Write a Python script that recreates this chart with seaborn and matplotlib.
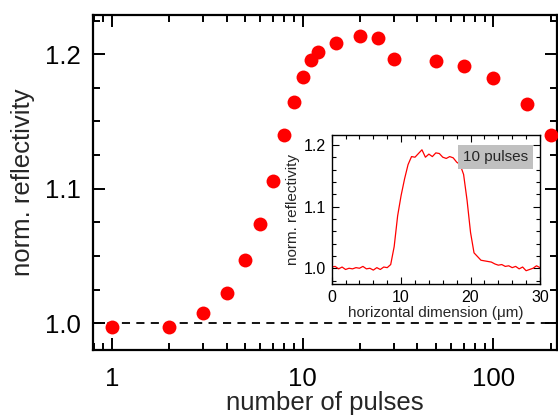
import numpy as np
import pandas as pd
import matplotlib
matplotlib.use('Agg')
import matplotlib.pyplot as plt
import matplotlib.ticker as mticker
import seaborn as sns

# main data: reflectivity vs number of pulses
pulses = [1, 2, 3, 4, 5, 6, 7, 8, 9, 10, 11, 12, 15, 20, 25, 30, 50, 70, 100, 150, 200]
reflectivity = [0.9972, 0.9975, 1.0079, 1.0228, 1.0470, 1.0736, 1.1060, 1.1396, 1.1648,
                1.1834, 1.1958, 1.2020, 1.2087, 1.2132, 1.2119, 1.1965, 1.1952, 1.1915,
                1.1826, 1.1628, 1.1400]

# inset profile (10 pulses)
position = [0.0, 0.5, 1.0, 1.5, 2.0, 2.5, 3.0, 3.5, 4.0, 4.5, 5.0, 5.5, 6.0, 6.5, 7.0,
            7.5, 8.0, 8.5, 9.0, 9.5, 10.0, 10.5, 11.0, 11.5, 12.0, 12.5, 13.0, 13.5,
            14.0, 14.5, 15.0, 15.5, 16.0, 16.5, 17.0, 17.5, 18.0, 18.5, 19.0, 19.5,
            20.0, 20.5, 21.0, 21.5, 22.0, 22.5, 23.0, 23.5, 24.0, 24.5, 25.0, 25.5,
            26.0, 26.5, 27.0, 27.5, 28.0, 28.5, 29.0, 29.5, 30.0]
profile = [1.002, 1.003, 0.999, 1.002, 0.998, 1.000, 0.999, 1.001, 1.000, 1.003, 0.999,
           1.000, 0.997, 1.001, 0.998, 1.002, 1.001, 1.006, 1.035, 1.085, 1.118, 1.145,
           1.168, 1.181, 1.180, 1.186, 1.192, 1.180, 1.185, 1.181, 1.187, 1.186, 1.180,
           1.178, 1.181, 1.179, 1.172, 1.168, 1.152, 1.110, 1.058, 1.025, 1.019, 1.013,
           1.012, 1.011, 1.010, 1.007, 1.005, 1.006, 1.003, 1.004, 1.001, 1.003, 0.999,
           1.002, 0.996, 0.998, 1.000, 1.004, 1.001]

df = pd.DataFrame({'pulses': pulses, 'refl': reflectivity})
prof = pd.DataFrame({'x': position, 'y': profile})

sns.set_theme(style='ticks')
plt.rcParams['font.family'] = ['Liberation Sans', 'DejaVu Sans']

fig = plt.figure(figsize=(5.58, 4.16), dpi=100)
ax = fig.add_axes([0.1667, 0.1587, 0.8315, 0.8053])

ax.axhline(1.0, color='black', lw=1.3, ls=(0, (4.5, 3.5)), zorder=1)
sns.scatterplot(data=df, x='pulses', y='refl', ax=ax, color='#ff0000', s=100,
                linewidth=0, zorder=3)
ax.set_xscale('log')
ax.set_xlim(0.795, 216)
ax.set_ylim(0.9801, 1.2292)
ax.xaxis.set_major_locator(mticker.FixedLocator([1, 10, 100]))
ax.xaxis.set_major_formatter(mticker.FixedFormatter(['1', '10', '100']))
ax.xaxis.set_minor_locator(mticker.LogLocator(base=10, subs=np.arange(2, 10) / 1.0, numticks=20))
ax.xaxis.set_minor_formatter(mticker.NullFormatter())
ax.yaxis.set_major_locator(mticker.MultipleLocator(0.1))
ax.yaxis.set_minor_locator(mticker.MultipleLocator(0.025))
ax.yaxis.set_major_formatter(mticker.FormatStrFormatter('%.1f'))
ax.tick_params(which='both', direction='in', top=True, right=True, colors='black',
               labelsize=18.5, width=1.4)
ax.tick_params(which='major', length=8.5)
ax.tick_params(which='minor', length=5)
ax.tick_params(axis='x', which='major', pad=12)
ax.tick_params(axis='y', which='major', pad=9)
for s in ax.spines.values():
    s.set_linewidth(1.6)
    s.set_color('black')
ax.set_xlabel('number of pulses', fontsize=18.5, labelpad=0.5)
ax.set_ylabel('norm. reflectivity', fontsize=18.5, labelpad=7)

# inset
ins = fig.add_axes([0.5944, 0.3166, 0.3733, 0.3589])
ins.set_facecolor('white')
sns.lineplot(data=prof, x='x', y='y', ax=ins, color='#ff0000', lw=0.9)
ins.set_xlim(0, 30)
ins.set_ylim(0.974, 1.216)
ins.xaxis.set_major_locator(mticker.MultipleLocator(10))
ins.xaxis.set_minor_locator(mticker.MultipleLocator(2))
ins.yaxis.set_major_locator(mticker.MultipleLocator(0.1))
ins.yaxis.set_minor_locator(mticker.MultipleLocator(0.02))
ins.yaxis.set_major_formatter(mticker.FormatStrFormatter('%.1f'))
ins.tick_params(which='both', direction='in', top=True, right=True, colors='black',
                labelsize=11.5, width=0.8, pad=4)
ins.tick_params(which='major', length=5)
ins.tick_params(which='minor', length=3)
for s in ins.spines.values():
    s.set_linewidth(1.0)
    s.set_color('black')
ins.set_xlabel('horizontal dimension (μm)', fontsize=11, labelpad=1)
ins.set_ylabel('norm. reflectivity', fontsize=11, labelpad=3)
ins.text(0.943, 0.853, '10 pulses', transform=ins.transAxes, ha='right', va='center',
         fontsize=11, bbox=dict(boxstyle='square,pad=0.35', facecolor='#c0c0c0',
                                edgecolor='none'))

fig.savefig('out.png', dpi=100)
